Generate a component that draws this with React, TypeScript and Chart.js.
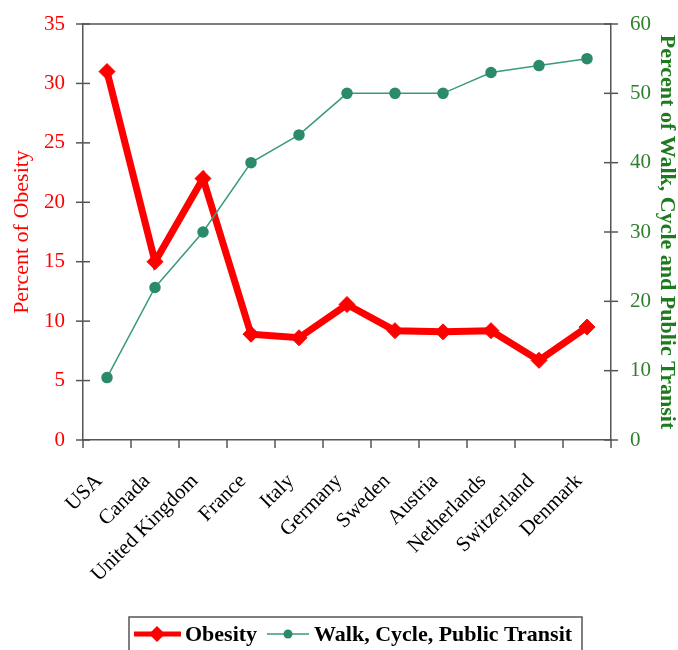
import React, { useEffect, useRef } from "react";
import { Chart, registerables } from "chart.js";

Chart.register(...registerables);

const countries = ["USA", "Canada", "United Kingdom", "France", "Italy", "Germany", "Sweden", "Austria", "Netherlands", "Switzerland", "Denmark"];
const obesity = [31, 15, 22, 8.9, 8.6, 11.4, 9.2, 9.1, 9.2, 6.7, 9.5];
const walkCycleTransit = [9, 22, 30, 40, 44, 50, 50, 50, 53, 54, 55];
const obesityLabel = "Obesity";
const walkLabel = "Walk, Cycle, Public Transit";
const leftTitle = "Percent of Obesity";
const rightTitle = "Percent of Walk, Cycle and Public Transit";

const FONT = "'Liberation Serif', 'Times New Roman', serif";
const RED = "#ff0000";
const TEAL_LINE = "#3a9a7c";
const TEAL_PT = "#2b8a68";
const GREEN_TXT = "#2f7f2f";
const GREEN_TITLE = "#1d7a1d";
const AXIS = "#555555";

const decoPlugin = {
  id: "deco",
  afterDraw(chart: any) {
    const ctx = chart.ctx;
    const a = chart.chartArea;
    const y = chart.scales.y;
    const y1 = chart.scales.y1;
    ctx.save();
    ctx.strokeStyle = AXIS;
    ctx.lineWidth = 1.5;
    ctx.beginPath();
    ctx.moveTo(a.left, a.top);
    ctx.lineTo(a.right, a.top);
    ctx.stroke();
    y.ticks.forEach((t: any) => {
      const py = y.getPixelForValue(t.value);
      ctx.beginPath();
      ctx.moveTo(a.left - 7, py);
      ctx.lineTo(a.left + 7, py);
      ctx.stroke();
    });
    y1.ticks.forEach((t: any) => {
      const py = y1.getPixelForValue(t.value);
      ctx.beginPath();
      ctx.moveTo(a.right - 7, py);
      ctx.lineTo(a.right + 7, py);
      ctx.stroke();
    });
    const n = countries.length;
    for (let i = 0; i <= n; i++) {
      const px = a.left + (i * (a.right - a.left)) / n;
      ctx.beginPath();
      ctx.moveTo(px, a.bottom);
      ctx.lineTo(px, a.bottom + 8);
      ctx.stroke();
    }
    // legend
    const boxL = 129, boxT = 617, boxR = 582, boxB = 662;
    ctx.strokeStyle = "#555555";
    ctx.lineWidth = 1.5;
    ctx.strokeRect(boxL, boxT, boxR - boxL, boxB - boxT);
    const cy = 634;
    ctx.strokeStyle = RED;
    ctx.lineWidth = 5;
    ctx.beginPath();
    ctx.moveTo(134, cy);
    ctx.lineTo(181, cy);
    ctx.stroke();
    ctx.fillStyle = RED;
    ctx.beginPath();
    ctx.moveTo(157, cy - 8);
    ctx.lineTo(165, cy);
    ctx.lineTo(157, cy + 8);
    ctx.lineTo(149, cy);
    ctx.closePath();
    ctx.fill();
    ctx.fillStyle = "#000";
    ctx.font = `bold 22px ${FONT}`;
    ctx.textBaseline = "middle";
    ctx.textAlign = "left";
    ctx.fillText(obesityLabel, 185, cy + 1);
    ctx.strokeStyle = TEAL_LINE;
    ctx.lineWidth = 1.5;
    ctx.beginPath();
    ctx.moveTo(267, cy);
    ctx.lineTo(309, cy);
    ctx.stroke();
    ctx.fillStyle = TEAL_PT;
    ctx.beginPath();
    ctx.arc(288, cy, 4.5, 0, Math.PI * 2);
    ctx.fill();
    ctx.fillStyle = "#000";
    ctx.fillText(walkLabel, 314, cy + 1);
    ctx.restore();
  },
};

export default function App() {
  const ref = useRef<HTMLCanvasElement>(null);
  useEffect(() => {
    document.body.style.margin = "0";
    const chart = new Chart(ref.current!, {
      type: "line",
      data: {
        labels: countries,
        datasets: [
          {
            label: obesityLabel,
            data: obesity,
            yAxisID: "y",
            borderColor: RED,
            backgroundColor: RED,
            borderWidth: 7,
            pointStyle: "rectRot",
            pointRadius: 8,
            pointBackgroundColor: RED,
            pointBorderColor: RED,
            pointBorderWidth: 1,
            tension: 0,
            order: 2,
          },
          {
            label: walkLabel,
            data: walkCycleTransit,
            yAxisID: "y1",
            borderColor: TEAL_LINE,
            backgroundColor: TEAL_PT,
            borderWidth: 1.5,
            pointStyle: "circle",
            pointRadius: 5,
            pointBackgroundColor: TEAL_PT,
            pointBorderColor: TEAL_PT,
            tension: 0,
            order: 1,
          },
        ],
      },
      options: {
        animation: false,
        responsive: false,
        layout: { padding: { top: 24, left: 0, right: 0, bottom: 0 } },
        plugins: { legend: { display: false }, tooltip: { enabled: false } },
        scales: {
          x: {
            offset: true,
            grid: { display: false },
            border: { display: true, color: AXIS, width: 1.5 },
            ticks: {
              color: "#000",
              font: { family: FONT, size: 21 },
              maxRotation: 45,
              minRotation: 45,
              autoSkip: false,
              padding: 21,
              labelOffset: -8,
            },
            afterFit(s: any) {
              s.height = 210;
              s.paddingLeft = 0;
              s.paddingRight = 0;
            },
          },
          y: {
            position: "left",
            min: 0,
            max: 35,
            grid: { display: false },
            border: { display: true, color: AXIS, width: 1.5 },
            ticks: { stepSize: 5, color: RED, font: { family: FONT, size: 21 }, padding: 10 },
            title: {
              display: true,
              text: leftTitle,
              color: RED,
              font: { family: FONT, size: 22, lineHeight: 1 },
              padding: { top: 11, bottom: 0 },
            },
            afterFit(s: any) {
              s.width = 83;
              s.paddingTop = 0;
              s.paddingBottom = 0;
            },
          },
          y1: {
            position: "right",
            min: 0,
            max: 60,
            grid: { display: false },
            border: { display: true, color: AXIS, width: 1.5 },
            ticks: { stepSize: 10, color: GREEN_TXT, font: { family: FONT, size: 21 }, padding: 11 },
            title: {
              display: true,
              text: rightTitle,
              color: GREEN_TITLE,
              font: { family: FONT, size: 22, weight: "bold", lineHeight: 1 },
              padding: { top: 0, bottom: 0 },
            },
            afterFit(s: any) {
              s.width = 67;
              s.paddingTop = 0;
              s.paddingBottom = 0;
            },
          },
        },
      },
      plugins: [decoPlugin],
    });
    return () => chart.destroy();
  }, []);
  return (
    <div style={{ width: 678, height: 650 }}>
      <canvas ref={ref} width={678} height={650} style={{ display: "block" }} />
    </div>
  );
}
